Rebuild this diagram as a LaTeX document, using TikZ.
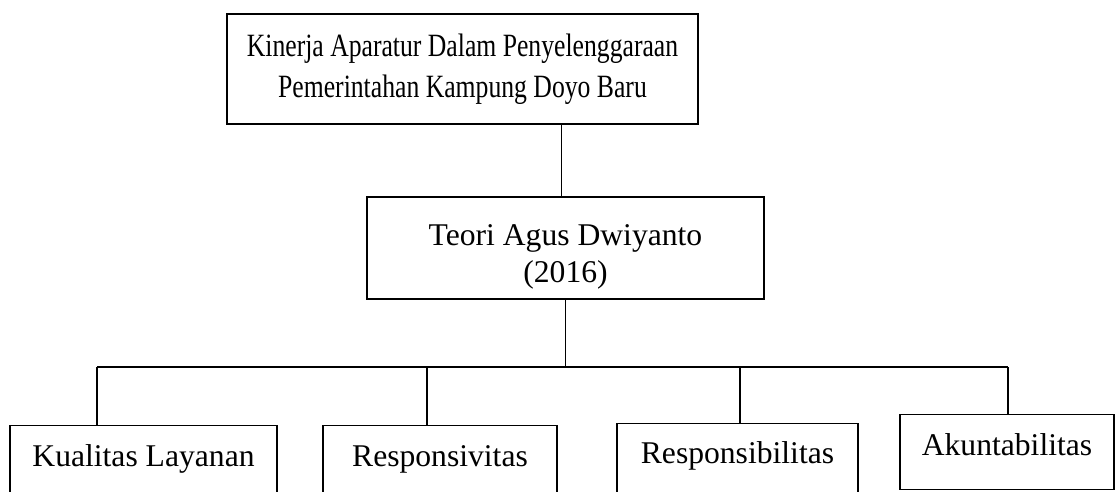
\documentclass[tikz,border=0pt]{standalone}
\usepackage{fontspec}
\setmainfont{Liberation Serif}
\newfontfamily\narrowserif[FakeStretch=0.79]{Liberation Serif}
\usepackage{tikz}
\usetikzlibrary{positioning, calc}

\begin{document}
\begin{tikzpicture}[
    x=0.02cm, y=-0.02cm,
    box/.style={rectangle, draw=black, line width=0.8pt, align=center, inner sep=0pt, fill=white},
    topbox/.style={box, font=\narrowserif\fontsize{18.5}{23.2}\selectfont},
    midbox/.style={box, font=\fontsize{18}{21.5}\selectfont},
    leafbox/.style={box, anchor=north, font=\fontsize{18}{21.5}\selectfont, text depth=1.2cm},
    link/.style={draw=black, line width=1.1pt}
]
    \useasboundingbox (0,0) rectangle (1115,491);
    \clip (0,0) rectangle (1115,491);

    \node[topbox, minimum width=9.42cm, minimum height=2.2cm] (kinerja) at (462.5,69) {Kinerja Aparatur Dalam Penyelenggaraan\\Pemerintahan Kampung Doyo Baru};
    \node[midbox, minimum width=7.94cm, minimum height=2.04cm] (teori) at (565.5,248) {\rule{0pt}{22pt}Teori Agus Dwiyanto\\(2016)};

    \node[leafbox, minimum width=5.34cm, text height=0.82cm] (kualitas) at (143.5,425) {Kualitas Layanan};
    \node[leafbox, minimum width=4.68cm, text height=0.82cm] (responsiv) at (440,425) {Responsivitas};
    \node[leafbox, minimum width=4.82cm, text height=0.80cm] (responsib) at (737.5,423) {Responsibilitas};
    \node[leafbox, minimum width=4.28cm, text height=0.82cm, text depth=0.68cm] (akun) at (1007,414) {Akuntabilitas};

    % bus
    \coordinate (busmid) at (teori.south |- 0,367);
    \coordinate (drop1) at (97,367);
    \coordinate (drop2) at (427,367);
    \coordinate (drop3) at (740,367);
    \coordinate (drop4) at (1008,367);

    % Connectors
    \draw[link] ([xshift=-0.08cm]kinerja.south -| teori.north) -- ([xshift=-0.08cm]teori.north);
    \draw[link] (teori.south) -- (busmid);
    \draw[link] (drop1) -- (drop4);
    \draw[link] (drop1) -- (drop1 |- kualitas.north);
    \draw[link] (drop2) -- (drop2 |- responsiv.north);
    \draw[link] (drop3) -- (drop3 |- responsib.north);
    \draw[link] (drop4) -- (drop4 |- akun.north);
\end{tikzpicture}
\end{document}
